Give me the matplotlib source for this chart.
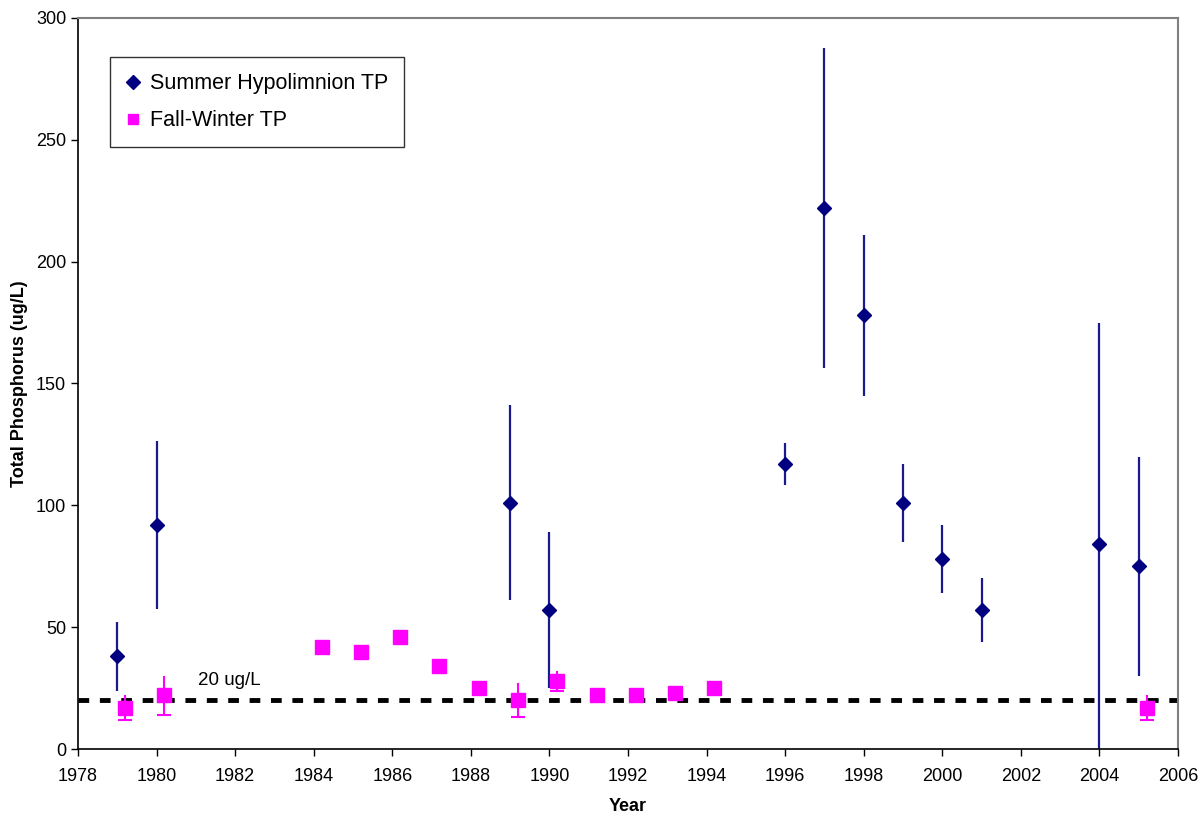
import matplotlib
matplotlib.use("Agg")
import matplotlib.pyplot as plt
import numpy as np

plt.rcParams['font.family'] = ['Liberation Sans', 'DejaVu Sans']

# Summer Hypolimnion TP
summer_years = [1979, 1980, 1989, 1990, 1996, 1997, 1998, 1999, 2000, 2001, 2004, 2005]
summer_tp = [38, 92, 101, 57, 117, 222, 178, 101, 78, 57, 84, 75]
summer_err = [14, 34.5, 40, 32, 8.5, 65.5, 33, 16, 14, 13, 91, 45]

# Fall-Winter TP
fall_years = [1979.2, 1980.2, 1984.2, 1985.2, 1986.2, 1987.2, 1988.2, 1989.2,
              1990.2, 1991.2, 1992.2, 1993.2, 1994.2, 2005.2]
fall_tp = [17, 22, 42, 40, 46, 34, 25, 20, 28, 22, 22, 23, 25, 17]
fall_err = [5, 8, 0, 0, 0, 0, 0, 7, 4, 0, 0, 0, 0, 5]

threshold = 20
xticks = list(range(1978, 2007, 2))
yticks = [0, 50, 100, 150, 200, 250, 300]

fig = plt.figure(figsize=(12.02, 8.16), dpi=100)
ax = fig.add_axes([78/1202, 67/816, 1100/1202, 731/816])

navy = '#000080'
magenta = '#FF00FF'

# threshold line
ax.axhline(threshold, color='black', lw=3.5, ls=(0, (2.2, 2.2)), zorder=1)
ax.text(1981.05, 28, '20 ug/L', fontsize=13.5, va='center', ha='left')

# summer error bars (no caps)
ax.errorbar(summer_years, summer_tp, yerr=summer_err, fmt='none', ecolor='#1a1a8c',
            elinewidth=1.6, capsize=0, zorder=2)
ax.plot(summer_years, summer_tp, ls='none', marker='D', ms=7.5, color=navy,
        label='Summer Hypolimnion TP', zorder=3)

# fall error bars: lower with caps, upper without
fe = np.array(fall_err, dtype=float)
ax.errorbar(fall_years, fall_tp, yerr=[fe, np.zeros_like(fe)], fmt='none',
            ecolor=magenta, elinewidth=1.5, capsize=5, capthick=1.5, zorder=2)
ax.errorbar(fall_years, fall_tp, yerr=[np.zeros_like(fe), fe], fmt='none',
            ecolor=magenta, elinewidth=1.5, capsize=0, zorder=2)
ax.plot(fall_years, fall_tp, ls='none', marker='s', ms=9.5, color=magenta,
        label='Fall-Winter TP', zorder=3)

ax.set_xlim(1978, 2006)
ax.set_ylim(0, 300)
ax.set_xticks(xticks)
ax.set_yticks(yticks)
ax.tick_params(axis='both', direction='out', length=5, labelsize=13, width=1)
ax.tick_params(axis='x', pad=9)

for s in ['left', 'bottom']:
    ax.spines[s].set_color('black')
    ax.spines[s].set_linewidth(1.2)
for s in ['top', 'right']:
    ax.spines[s].set_color('#808080')
    ax.spines[s].set_linewidth(1.5)

ax.set_xlabel('Year', fontsize=13, fontweight='bold', labelpad=9)
ax.set_ylabel('Total Phosphorus (ug/L)', fontsize=13, fontweight='bold', labelpad=5.5)

leg = ax.legend(loc='upper left', bbox_to_anchor=(32/1100, 1 - 39/731), fontsize=15.5,
                frameon=True, fancybox=False, edgecolor='black', handlelength=0.6,
                handletextpad=0.5, borderpad=0.75, labelspacing=0.75, borderaxespad=0)
leg.get_frame().set_linewidth(1.0)
for h in leg.legend_handles:
    h.set_markersize(7.5)

fig.savefig('out.png', dpi=100)
